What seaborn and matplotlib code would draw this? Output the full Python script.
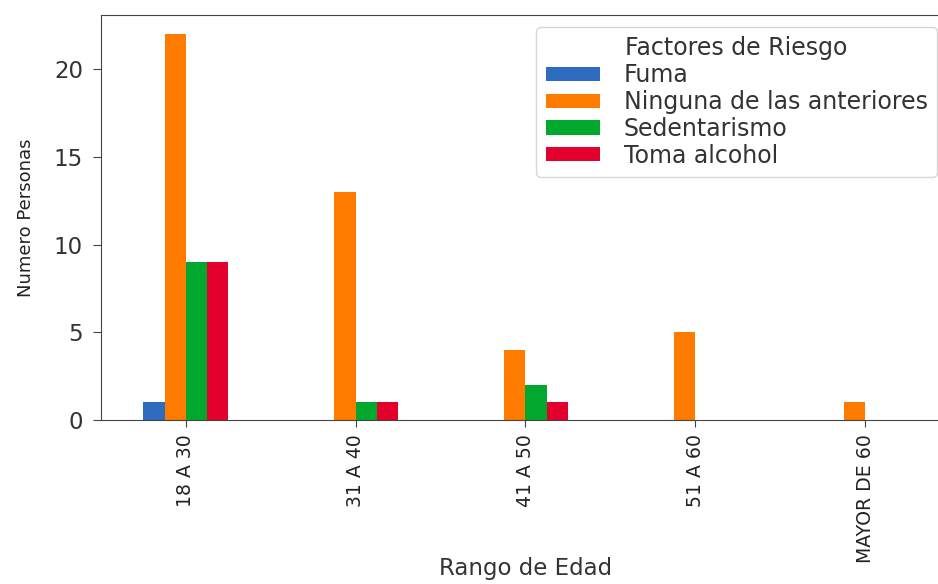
# Factores de riesgo por rango de edad
import pandas as pd
import matplotlib.pyplot as plt
import seaborn as sns

# Data
rangos = ["18 A 30", "31 A 40", "41 A 50", "51 A 60", "MAYOR DE 60"]
factores = ["Fuma", "Ninguna de las anteriores", "Sedentarismo", "Toma alcohol"]
fuma = [1, 0, 0, 0, 0]
ninguna = [22, 13, 4, 5, 1]
sedentarismo = [9, 1, 2, 0, 0]
toma_alcohol = [9, 1, 1, 0, 0]
colores = ["#2d6cbe", "#ff7b00", "#00a82d", "#e3002c"]

# Long-form table for seaborn
valores = [fuma, ninguna, sedentarismo, toma_alcohol]
rows = []
for factor, serie in zip(factores, valores):
    for rango, v in zip(rangos, serie):
        rows.append({"Rango": rango, "Factor": factor, "Personas": v})
df = pd.DataFrame(rows)

fig = plt.figure(figsize=(9.38, 5.84), dpi=100)
ax = fig.add_axes([0.1077, 0.2808, 0.905, 0.6935])

sns.barplot(
    data=df,
    x="Rango",
    y="Personas",
    hue="Factor",
    order=rangos,
    hue_order=factores,
    palette=dict(zip(factores, colores)),
    saturation=1,
    width=0.5,
    errorbar=None,
    ax=ax
)

ax.set_xlim(-0.5, len(rangos) - 0.5)
ax.set_ylim(0, max(ninguna) * 1.05)
ax.set_yticks([0, 5, 10, 15, 20])
ax.tick_params(axis="y", labelsize=16.5, length=6, pad=7, color="#444444", labelcolor="#333333")
ax.tick_params(axis="x", labelsize=13.6, labelrotation=90, length=5, pad=5, color="#444444", labelcolor="#222222")
for s in ax.spines.values():
    s.set_color("#444444")

ax.set_xlabel("Rango de Edad", fontsize=16.5, color="#333333")
ax.xaxis.set_label_coords(0.5, -0.338)
ax.set_ylabel("Numero Personas", fontsize=13, color="#222222")
ax.yaxis.set_label_coords(-0.078, 0.5)

leg = ax.legend(
    title="Factores de Riesgo",
    fontsize=17,
    title_fontsize=17,
    loc="upper right",
    bbox_to_anchor=(0.999, 0.954),
    bbox_transform=fig.transFigure,
    borderaxespad=0,
    handlelength=2.3,
    handleheight=0.55,
    handletextpad=1.0,
    labelspacing=0.12,
    borderpad=0.4
)
for t in leg.get_texts():
    t.set_color("#333333")
leg.get_title().set_color("#333333")

fig.savefig("out.png", dpi=100)
